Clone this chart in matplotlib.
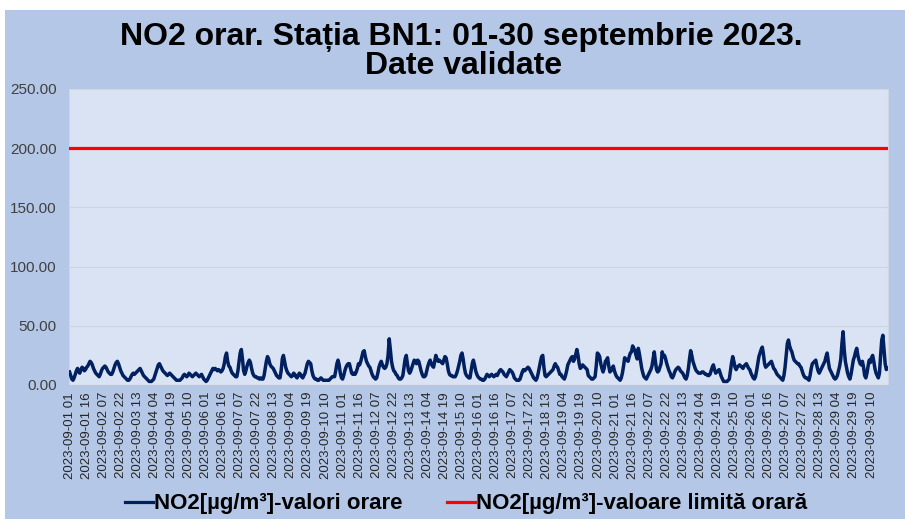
import matplotlib
matplotlib.use("Agg")
import matplotlib.pyplot as plt
import numpy as np
import pandas as pd
from matplotlib.patches import Rectangle
from matplotlib.lines import Line2D

plt.rcParams['font.family'] = ['Liberation Sans', 'DejaVu Sans']

# Hourly NO2 values (µg/m³), one list per day, hours 01..24
sep01 = [11, 8, 5, 4, 6, 9, 12, 14, 11, 10, 13, 15, 14, 12, 13, 15, 16, 18, 20, 19, 17, 14, 12, 10]
sep02 = [9, 8, 7, 9, 12, 14, 15, 16, 15, 13, 11, 10, 9, 9, 11, 14, 17, 19, 20, 18, 15, 12, 10, 8]
sep03 = [7, 6, 5, 4, 4, 5, 7, 9, 10, 9, 10, 11, 12, 13, 14, 12, 10, 8, 7, 6, 5, 4, 3, 3]
sep04 = [3, 4, 5, 8, 11, 14, 17, 18, 16, 14, 12, 11, 10, 9, 8, 9, 10, 9, 8, 7, 6, 5, 4, 4]
sep05 = [4, 4, 5, 6, 8, 9, 8, 7, 8, 10, 9, 8, 7, 8, 9, 10, 9, 8, 7, 8, 9, 7, 5, 4]
sep06 = [3, 4, 6, 8, 10, 12, 14, 13, 14, 13, 12, 13, 12, 11, 12, 14, 18, 24, 27, 20, 16, 15, 12, 10]
sep07 = [9, 8, 7, 7, 12, 20, 27, 30, 22, 12, 9, 12, 16, 19, 21, 19, 14, 10, 8, 7, 7, 6, 6, 5]
sep08 = [6, 5, 5, 8, 14, 20, 24, 22, 18, 16, 15, 14, 12, 10, 8, 7, 6, 6, 12, 22, 25, 20, 15, 12]
sep09 = [10, 9, 8, 7, 8, 10, 9, 7, 6, 8, 10, 9, 7, 6, 8, 10, 14, 18, 20, 19, 18, 12, 8, 6]
sep10 = [5, 5, 4, 4, 5, 6, 5, 4, 4, 4, 4, 4, 4, 5, 6, 7, 7, 7, 12, 18, 21, 17, 10, 6]
sep11 = [5, 8, 12, 15, 17, 18, 18, 14, 10, 9, 10, 9, 11, 14, 18, 17, 20, 24, 28, 29, 24, 20, 18, 16]
sep12 = [15, 12, 9, 7, 6, 5, 6, 10, 15, 18, 20, 17, 15, 14, 15, 18, 25, 39, 30, 20, 15, 12, 11, 9]
sep13 = [8, 6, 5, 5, 6, 8, 15, 22, 25, 18, 12, 10, 12, 15, 18, 21, 20, 18, 21, 20, 16, 12, 9, 7]
sep14 = [7, 8, 12, 16, 19, 21, 18, 16, 15, 20, 25, 22, 20, 21, 20, 19, 18, 21, 24, 23, 18, 12, 9, 8]
sep15 = [8, 7, 7, 7, 9, 12, 16, 20, 25, 27, 22, 15, 10, 8, 7, 6, 6, 12, 18, 21, 17, 12, 9, 7]
sep16 = [6, 5, 5, 4, 4, 5, 7, 9, 8, 7, 8, 9, 8, 7, 8, 9, 8, 10, 12, 13, 12, 11, 9, 8]
sep17 = [7, 9, 11, 13, 12, 11, 9, 6, 5, 4, 4, 4, 5, 8, 11, 13, 12, 13, 14, 15, 14, 12, 10, 8]
sep18 = [6, 5, 4, 6, 10, 15, 20, 24, 25, 15, 8, 7, 8, 9, 10, 11, 12, 13, 16, 18, 16, 15, 12, 9]
sep19 = [9, 7, 6, 5, 8, 12, 17, 19, 21, 23, 24, 20, 22, 26, 30, 25, 18, 14, 15, 17, 16, 15, 14, 13]
sep20 = [8, 7, 6, 5, 5, 6, 7, 16, 27, 26, 24, 18, 14, 11, 14, 20, 21, 23, 16, 11, 12, 14, 16, 12]
sep21 = [9, 7, 6, 5, 4, 6, 10, 16, 23, 22, 21, 20, 24, 27, 28, 33, 31, 29, 25, 22, 31, 26, 20, 14]
sep22 = [10, 7, 6, 5, 7, 9, 11, 13, 16, 22, 28, 20, 13, 11, 12, 15, 18, 28, 24, 25, 22, 18, 15, 12]
sep23 = [10, 7, 6, 8, 11, 13, 14, 15, 14, 12, 11, 10, 8, 6, 5, 8, 14, 22, 29, 25, 20, 17, 14, 12]
sep24 = [11, 10, 10, 10, 11, 11, 10, 9, 9, 8, 8, 9, 12, 15, 17, 13, 10, 11, 12, 13, 10, 7, 5, 3]
sep25 = [3, 3, 3, 4, 5, 12, 19, 24, 20, 15, 13, 15, 16, 17, 16, 15, 14, 16, 17, 18, 16, 14, 13, 10]
sep26 = [8, 6, 5, 7, 12, 18, 24, 27, 30, 32, 26, 18, 15, 16, 17, 18, 19, 20, 17, 14, 13, 11, 9, 8]
sep27 = [7, 6, 5, 4, 8, 15, 25, 35, 38, 33, 30, 28, 24, 21, 20, 19, 18, 18, 16, 15, 12, 9, 7, 6]
sep28 = [6, 5, 4, 8, 14, 18, 19, 20, 21, 16, 12, 10, 12, 14, 16, 18, 20, 24, 27, 20, 14, 12, 10, 8]
sep29 = [6, 5, 6, 8, 12, 16, 22, 35, 45, 30, 20, 15, 10, 7, 5, 9, 15, 21, 24, 28, 31, 25, 21, 18]
sep30 = [17, 20, 15, 8, 6, 10, 16, 21, 19, 23, 25, 20, 14, 10, 8, 6, 10, 25, 38, 42, 30, 18, 13, 14]

limit_value = 200.0
y_ticks = [0, 50, 100, 150, 200, 250]
title_line1 = "NO2 orar. Stația BN1: 01-30 septembrie 2023."
title_line2 = "Date validate"
legend_labels = ["NO2[µg/m³]-valori orare", "NO2[µg/m³]-valoare limită orară"]

days = [sep01, sep02, sep03, sep04, sep05, sep06, sep07, sep08, sep09, sep10,
        sep11, sep12, sep13, sep14, sep15, sep16, sep17, sep18, sep19, sep20,
        sep21, sep22, sep23, sep24, sep25, sep26, sep27, sep28, sep29, sep30]
no2 = np.concatenate([np.array(d, dtype=float) for d in days])

# Category labels: "YYYY-MM-DD HH" with hours 01..24
cats = []
for di in range(30):
    for hr in range(1, 25):
        cats.append(f"2023-09-{di+1:02d} {hr:02d}")
tick_idx = list(range(0, len(cats), 15))
tick_labels = [cats[i] for i in tick_idx]

W, H = 905, 519
fig = plt.figure(figsize=(W/100, H/100), dpi=100, facecolor='white')
bg = Rectangle((5/W, 0), 1 - 5/W, (H-10)/H, transform=fig.transFigure,
               facecolor='#B4C7E7', edgecolor='none', zorder=-10)
fig.add_artist(bg)

ax = fig.add_axes([69/W, 134/H, (888-69)/W, 296/H])
ax.set_facecolor('#DAE3F3')
x = np.arange(len(no2))
ax.plot(x, no2, color='#002060', lw=2.5, solid_joinstyle='round', zorder=3)
ax.plot(x, np.full(len(x), limit_value), color='#FF0000', lw=2.3, zorder=3)

ax.set_xlim(-0.5, len(no2) - 0.5)
ax.set_ylim(0, 250)
ax.set_yticks(y_ticks)
ax.set_yticklabels([f"{v:.2f}" for v in y_ticks], fontsize=11, color='#404040')
ax.set_xticks(tick_idx)
ax.set_xticklabels(tick_labels, rotation=90, fontsize=9.5, color='#262626')
ax.tick_params(axis='both', length=0, pad=5)
ax.tick_params(axis='y', pad=9)
ax.grid(axis='y', color='#CDD3DD', lw=0.8, zorder=1)
for s in ['top', 'right', 'left']:
    ax.spines[s].set_color('#D0D6E2')
    ax.spines[s].set_linewidth(0.8)
ax.spines['bottom'].set_color('#BFC6D3')
ax.spines['bottom'].set_linewidth(0.8)

fig.text(461.5/W, (H-45)/H, title_line1, ha='center', va='baseline',
         fontsize=23, fontweight='bold', color='#000000')
fig.text(464/W, (H-74)/H, title_line2, ha='center', va='baseline',
         fontsize=23, fontweight='bold', color='#000000')

handles = [Line2D([0], [0], color='#002060', lw=2.3),
           Line2D([0], [0], color='#FF0000', lw=2.3)]
fig.legend(handles, legend_labels,
           loc='center', bbox_to_anchor=(466/W, (H-504)/H), ncol=2, frameon=False,
           prop={'size': 16, 'weight': 'bold'}, handlelength=1.25,
           handletextpad=0.05, columnspacing=2.0, borderpad=0, borderaxespad=0)

fig.savefig('out.png', dpi=100, facecolor=fig.get_facecolor())
